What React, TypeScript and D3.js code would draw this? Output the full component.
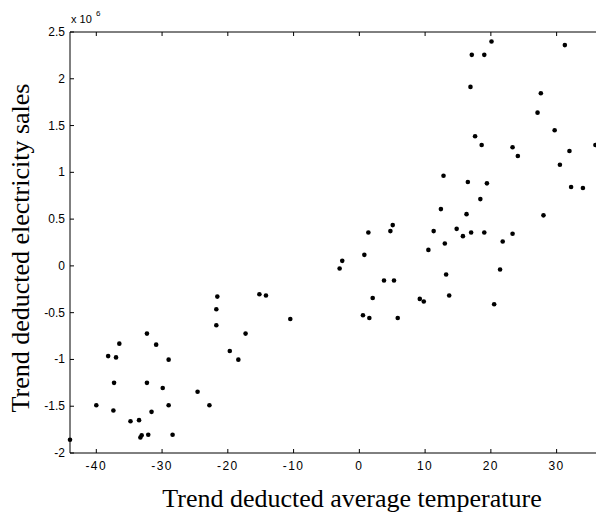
import React from "react";
import * as d3 from "d3";

const temperature: number[] = [
  -44.0, -40.0, -38.2, -37.0, -36.5, -37.3, -37.4, -34.8, -33.5, -33.3, -33.1, -32.1, -32.3, -32.3, -31.6, -30.9,
  -29.9, -29.0, -29.0, -28.4, -24.6, -22.8, -21.6, -21.75, -21.75, -19.7, -18.4, -17.3, -15.2, -14.2, -10.5,
  -3.0, -2.6, 0.55, 0.76, 1.37, 1.52, 2.03, 3.75, 4.72, 5.08, 5.27, 5.84, 9.19, 9.8, 10.5, 11.3, 12.4, 12.8,
  13.0, 13.2, 13.66, 14.8, 15.75, 16.3, 16.5, 17.0, 16.9, 17.1, 17.6, 18.4, 18.6, 19.0, 19.0, 19.4, 20.1, 20.5,
  21.4, 21.8, 23.3, 23.3, 24.1, 27.1, 27.6, 28.0, 29.7, 30.5, 31.25, 31.95, 32.2, 34.0, 35.9,
];

const sales: number[] = [
  -1.858, -1.49, -0.964, -0.978, -0.831, -1.25, -1.545, -1.66, -1.649, -1.834, -1.81, -1.805, -0.724, -1.25, -1.56, -0.842,
  -1.306, -1.002, -1.49, -1.805, -1.345, -1.49, -0.328, -0.464, -0.635, -0.91, -1.002, -0.724, -0.303, -0.317, -0.567,
  -0.028, 0.054, -0.528, 0.118, 0.357, -0.557, -0.343, -0.156, 0.372, 0.436, -0.156, -0.557, -0.353, -0.381, 0.171, 0.372, 0.607, 0.964,
  0.24, -0.092, -0.317, 0.396, 0.318, 0.553, 0.896, 0.357, 1.913, 2.256, 1.385, 0.714, 1.292, 2.256, 0.357, 0.882, 2.398, -0.41,
  -0.039, 0.261, 1.268, 0.343, 1.175, 1.638, 1.846, 0.54, 1.45, 1.081, 2.36, 1.228, 0.843, 0.832, 1.292,
];

const xTicks: number[] = [-40, -30, -20, -10, 0, 10, 20, 30];
const yTicks: number[] = [-2, -1.5, -1, -0.5, 0, 0.5, 1, 1.5, 2, 2.5];
const xTickLabels: string[] = ["-40", "-30", "-20", "-10", "0", "10", "20", "30"];
const yTickLabels: string[] = ["-2", "-1.5", "-1", "-0.5", "0", "0.5", "1", "1.5", "2", "2.5"];

const W = 596;
const H = 515;

export default function App() {
  const x = d3.scaleLinear().domain([-44, 40]).range([70, 70 + 84 * 6.576]);
  const y = d3.scaleLinear().domain([-2, 2.5]).range([453, 32]);
  const left = x(-44);
  const right = x(40);
  const top = y(2.5);
  const bottom = y(-2);
  const tickLen = 4;
  const tickFont = "'Liberation Sans', Arial, sans-serif";
  const titleFont = "'Liberation Serif', 'Times New Roman', serif";
  const points = d3.zip(temperature, sales);

  return (
    <svg width={W} height={H} style={{ position: "absolute", left: 0, top: 0, background: "#fff" }}>
      <rect x={0} y={0} width={W} height={H} fill="#fff" />
      {/* axes lines */}
      <line x1={left} x2={right} y1={top} y2={top} stroke="#000" strokeWidth={1} />
      <line x1={left} x2={right} y1={bottom} y2={bottom} stroke="#000" strokeWidth={1} />
      <line x1={left} x2={left} y1={top} y2={bottom} stroke="#000" strokeWidth={1} />
      {/* x ticks */}
      {xTicks.map((t, i) => (
        <g key={"xt" + i}>
          <line x1={x(t)} x2={x(t)} y1={bottom} y2={bottom - tickLen} stroke="#000" />
          <line x1={x(t)} x2={x(t)} y1={top} y2={top + tickLen} stroke="#000" />
          <text
            x={x(t)}
            y={bottom + 17}
            textAnchor="middle"
            fontFamily={tickFont}
            fontSize={12}
            letterSpacing={1.5}
            fill="#000"
          >
            {xTickLabels[i]}
          </text>
        </g>
      ))}
      {/* y ticks */}
      {yTicks.map((t, i) => (
        <g key={"yt" + i}>
          <line x1={left} x2={left + tickLen} y1={y(t)} y2={y(t)} stroke="#000" />
          <text
            x={left - 5}
            y={y(t) + 4}
            textAnchor="end"
            fontFamily={tickFont}
            fontSize={12}
            fill="#000"
          >
            {yTickLabels[i]}
          </text>
        </g>
      ))}
      {/* exponent */}
      <text x={left + 1} y={23} fontFamily={tickFont} fontSize={11} fill="#000">
        x 10
      </text>
      <text x={left + 26} y={16} fontFamily={tickFont} fontSize={8} fill="#000">
        6
      </text>
      {/* points */}
      {points.map(([tx, sy], i) => (
        <circle key={"p" + i} cx={x(tx)} cy={y(sy)} r={2.3} fill="#000" />
      ))}
      {/* titles */}
      <text
        x={352}
        y={507}
        textAnchor="middle"
        fontFamily={titleFont}
        fontSize={26}
        fill="#000"
      >
        Trend deducted average temperature
      </text>
      <text
        transform={`translate(29, 248) rotate(-90)`}
        textAnchor="middle"
        fontFamily={titleFont}
        fontSize={26}
        fill="#000"
      >
        Trend deducted electricity sales
      </text>
    </svg>
  );
}
